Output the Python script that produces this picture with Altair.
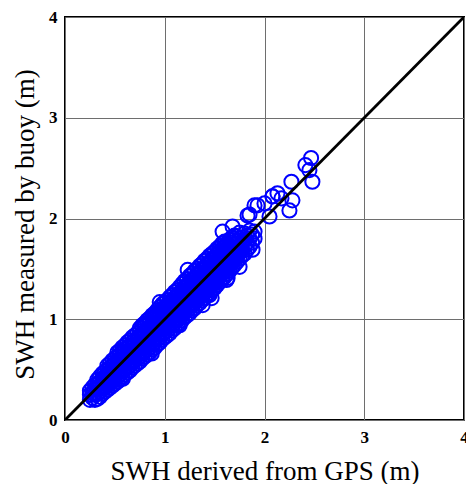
import altair as alt
import pandas as pd

# Main dense band: x columns (GPS SWH) and the buoy SWH values read at each column
band_x = [0.25, 0.30, 0.35, 0.40, 0.45, 0.50, 0.55, 0.60, 0.65, 0.70, 0.75, 0.80,
          0.85, 0.90, 0.95, 1.00, 1.05, 1.10, 1.15, 1.20, 1.25, 1.30, 1.35, 1.40,
          1.45, 1.50, 1.55, 1.60, 1.65, 1.70, 1.75, 1.80, 1.85, 1.90]
band_y = [
    [0.20, 0.25, 0.29],
    [0.20, 0.25, 0.30, 0.35],
    [0.23, 0.28, 0.33, 0.38, 0.43],
    [0.28, 0.33, 0.38, 0.43, 0.48],
    [0.32, 0.37, 0.42, 0.47, 0.52, 0.56],
    [0.36, 0.41, 0.46, 0.51, 0.56, 0.61],
    [0.40, 0.45, 0.50, 0.55, 0.60, 0.65, 0.69],
    [0.45, 0.50, 0.55, 0.60, 0.65, 0.70, 0.74],
    [0.49, 0.54, 0.59, 0.64, 0.69, 0.74, 0.79],
    [0.54, 0.59, 0.64, 0.69, 0.74, 0.79, 0.84],
    [0.58, 0.63, 0.68, 0.73, 0.78, 0.83, 0.88, 0.91],
    [0.63, 0.68, 0.73, 0.78, 0.83, 0.88, 0.93, 0.96],
    [0.67, 0.72, 0.77, 0.82, 0.87, 0.92, 0.97, 1.01],
    [0.72, 0.77, 0.82, 0.87, 0.92, 0.97, 1.02, 1.06],
    [0.77, 0.82, 0.87, 0.92, 0.97, 1.02, 1.07, 1.12],
    [0.82, 0.87, 0.92, 0.97, 1.02, 1.07, 1.12, 1.17],
    [0.86, 0.91, 0.96, 1.01, 1.06, 1.11, 1.16, 1.22],
    [0.91, 0.96, 1.01, 1.06, 1.11, 1.16, 1.21, 1.27],
    [0.96, 1.01, 1.06, 1.11, 1.16, 1.21, 1.26, 1.32],
    [1.02, 1.07, 1.12, 1.17, 1.22, 1.27, 1.32, 1.38],
    [1.06, 1.11, 1.16, 1.21, 1.26, 1.31, 1.36, 1.43],
    [1.11, 1.16, 1.21, 1.26, 1.31, 1.36, 1.41, 1.48],
    [1.16, 1.21, 1.26, 1.31, 1.36, 1.41, 1.46, 1.53],
    [1.21, 1.26, 1.31, 1.36, 1.41, 1.46, 1.51, 1.58],
    [1.26, 1.31, 1.36, 1.41, 1.46, 1.51, 1.56, 1.63],
    [1.31, 1.36, 1.41, 1.46, 1.51, 1.56, 1.61, 1.67],
    [1.37, 1.42, 1.47, 1.52, 1.57, 1.62, 1.67, 1.72],
    [1.42, 1.47, 1.52, 1.57, 1.62, 1.67, 1.72, 1.77],
    [1.48, 1.53, 1.58, 1.63, 1.68, 1.73, 1.79],
    [1.54, 1.59, 1.64, 1.69, 1.74, 1.80, 1.83],
    [1.60, 1.66, 1.72, 1.78, 1.86],
    [1.65, 1.72, 1.79, 1.85],
    [1.72, 1.80, 1.88],
    [1.80, 1.87],
]

# Second set of columns lying between the first ones
mid_x = [0.275, 0.325, 0.375, 0.425, 0.475, 0.525, 0.575, 0.625, 0.675, 0.725,
         0.775, 0.825, 0.875, 0.925, 0.975, 1.025, 1.075, 1.125, 1.175, 1.225,
         1.275, 1.325, 1.375, 1.425, 1.475, 1.525, 1.575, 1.625, 1.675, 1.725,
         1.775, 1.825, 1.875]
mid_y = [
    [0.22, 0.27, 0.32],
    [0.21, 0.26, 0.31, 0.36, 0.40],
    [0.26, 0.31, 0.36, 0.41, 0.46],
    [0.30, 0.35, 0.40, 0.45, 0.50, 0.54],
    [0.34, 0.39, 0.44, 0.49, 0.54, 0.59],
    [0.38, 0.43, 0.48, 0.53, 0.58, 0.63, 0.67],
    [0.43, 0.48, 0.53, 0.58, 0.63, 0.68, 0.72],
    [0.47, 0.52, 0.57, 0.62, 0.67, 0.72, 0.77],
    [0.52, 0.57, 0.62, 0.67, 0.72, 0.77, 0.82],
    [0.56, 0.61, 0.66, 0.71, 0.76, 0.81, 0.86],
    [0.61, 0.66, 0.71, 0.76, 0.81, 0.86, 0.91, 0.94],
    [0.65, 0.70, 0.75, 0.80, 0.85, 0.90, 0.95, 0.99],
    [0.70, 0.75, 0.80, 0.85, 0.90, 0.95, 1.00, 1.04],
    [0.75, 0.80, 0.85, 0.90, 0.95, 1.00, 1.05, 1.09],
    [0.80, 0.85, 0.90, 0.95, 1.00, 1.05, 1.10, 1.15],
    [0.84, 0.89, 0.94, 0.99, 1.04, 1.09, 1.14, 1.19],
    [0.89, 0.94, 0.99, 1.04, 1.09, 1.14, 1.19, 1.24],
    [0.94, 0.99, 1.04, 1.09, 1.14, 1.19, 1.24, 1.29],
    [0.99, 1.04, 1.09, 1.14, 1.19, 1.24, 1.29, 1.35],
    [1.04, 1.09, 1.14, 1.19, 1.24, 1.29, 1.34, 1.40],
    [1.09, 1.14, 1.19, 1.24, 1.29, 1.34, 1.39, 1.45],
    [1.14, 1.19, 1.24, 1.29, 1.34, 1.39, 1.44, 1.50],
    [1.19, 1.24, 1.29, 1.34, 1.39, 1.44, 1.49, 1.55],
    [1.24, 1.29, 1.34, 1.39, 1.44, 1.49, 1.54, 1.60],
    [1.29, 1.34, 1.39, 1.44, 1.49, 1.54, 1.59, 1.65],
    [1.34, 1.39, 1.44, 1.49, 1.54, 1.59, 1.64, 1.70],
    [1.40, 1.45, 1.50, 1.55, 1.60, 1.65, 1.70, 1.75],
    [1.45, 1.50, 1.55, 1.60, 1.65, 1.70, 1.75],
    [1.51, 1.56, 1.61, 1.66, 1.71, 1.76, 1.81],
    [1.57, 1.62, 1.67, 1.72, 1.77, 1.82],
    [1.63, 1.69, 1.75, 1.81],
    [1.69, 1.76, 1.83],
    [1.76, 1.84],
]

# Scattered individual points outside the dense band
out_x = [0.58, 0.87, 0.95, 1.15, 1.23, 1.38, 1.45, 1.47, 1.58, 1.62, 1.63, 1.68,
         1.75, 1.83, 1.85, 1.88, 1.90, 1.93, 2.00, 2.05, 2.08, 2.08, 2.13, 2.17,
         2.25, 2.27, 2.28, 2.41, 2.45, 2.467, 2.48]
out_y = [0.41, 0.66, 1.17, 0.94, 1.49, 1.14, 1.24, 1.21, 1.87, 1.39, 1.41, 1.92,
         1.52, 2.03, 2.04, 1.69, 2.13, 2.13, 2.15, 2.02, 2.22, 2.22, 2.25, 2.20,
         2.08, 2.365, 2.18, 2.53, 2.48, 2.60, 2.365]

# 1:1 reference line
line_x = [0, 4]
line_y = [0, 4]

ticks = [0, 1, 2, 3, 4]

rows = []
for cols_x, cols_y in ((band_x, band_y), (mid_x, mid_y)):
    for xv, ys in zip(cols_x, cols_y):
        for yv in ys:
            rows.append({"gps": xv, "buoy": yv})
for xv, yv in zip(out_x, out_y):
    rows.append({"gps": xv, "buoy": yv})
pts = pd.DataFrame(rows)
ln = pd.DataFrame({"gps": line_x, "buoy": line_y})

xscale = alt.Scale(domain=[0, 4], nice=False, zero=False)
yscale = alt.Scale(domain=[0, 4], nice=False, zero=False)

xaxis = alt.Axis(values=ticks, format="d", title="SWH derived from GPS (m)",
                 grid=True, gridColor="#6e6e6e", gridWidth=1, gridOpacity=1,
                 domain=False, ticks=False, labelPadding=9,
                 labelFont="Liberation Serif", labelFontWeight="bold", labelFontSize=17,
                 labelColor="black", labelFlush=False,
                 titleFont="Liberation Serif", titleFontWeight="normal", titleFontSize=27,
                 titleColor="black", titleX=199.5, titleY=59, titleAlign="center",
                 titleBaseline="alphabetic")
yaxis = alt.Axis(values=ticks, format="d", title="SWH measured by buoy (m)",
                 grid=True, gridColor="#6e6e6e", gridWidth=1, gridOpacity=1,
                 domain=False, ticks=False, labelPadding=8,
                 labelFont="Liberation Serif", labelFontWeight="bold", labelFontSize=17,
                 labelColor="black", labelFlush=False,
                 titleFont="Liberation Serif", titleFontWeight="normal", titleFontSize=27,
                 titleColor="black", titleX=-32, titleY=207, titleAlign="center",
                 titleBaseline="alphabetic", titleAngle=270)

points = alt.Chart(pts).mark_point(
    shape="circle", filled=False, color="#0000ff", size=200, strokeWidth=2, opacity=1
).encode(
    x=alt.X("gps:Q", scale=xscale, axis=xaxis),
    y=alt.Y("buoy:Q", scale=yscale, axis=yaxis),
)

diag = alt.Chart(ln).mark_line(color="black", strokeWidth=2.8, clip=True).encode(
    x=alt.X("gps:Q", scale=xscale),
    y=alt.Y("buoy:Q", scale=yscale),
)

chart = alt.layer(points, diag).properties(
    width=399, height=403,
    autosize=alt.AutoSizeParams(type="none"),
    padding={"left": 65, "top": 17, "right": 2, "bottom": 64},
    background="white",
).configure_view(stroke="black", strokeWidth=2)

chart.save("out.html", embed_options={"renderer": "svg", "actions": False})
